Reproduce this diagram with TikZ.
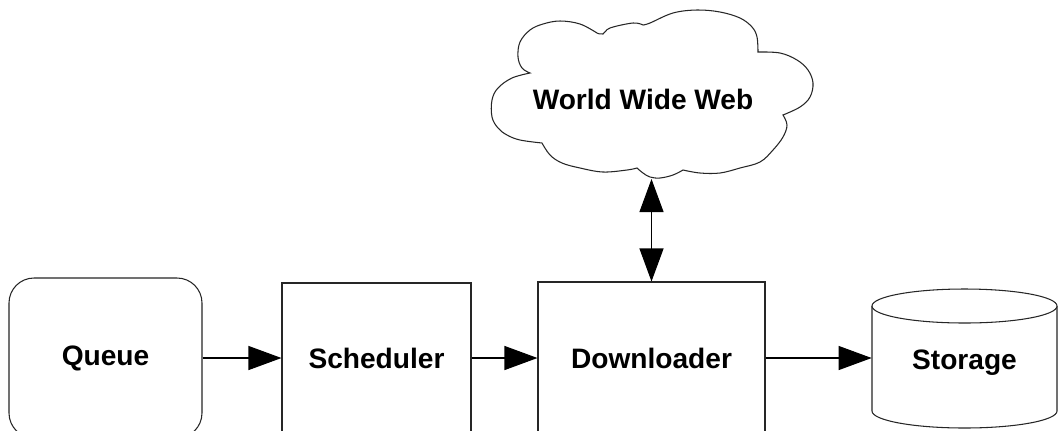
\documentclass[tikz,border=0pt]{standalone}
\usepackage{fontspec}
\setmainfont{Liberation Sans}
\usepackage{tikz}
\usetikzlibrary{positioning, arrows.meta, shapes.geometric}

\newcommand{\boxfont}{\fontsize{16}{19}\selectfont\bfseries}

\tikzset{
  stage/.style={draw=black!85, line width=0.6pt, fill=white, font=\boxfont,
    inner sep=0pt},
  drum/.style={draw=black!85, line width=0.6pt, fill=white},
  flow/.style={line width=0.6pt, -{Triangle[length=6.6mm, width=4.8mm]}},
  twoway/.style={line width=0.6pt,
    {Triangle[length=6.6mm, width=4.8mm]}-{Triangle[length=6.6mm, width=4.8mm]}}
}

\begin{document}
\begin{tikzpicture}[x=0.2mm, y=-0.2mm]
        % page frame, the boxes run past the lower edge
        \clip (0,0) rectangle (1058,430);
        \fill[white] (0,0) rectangle (1058,430);

        % pipeline
        \node[stage, rounded corners=5mm, minimum width=38.6mm, minimum height=32mm]
          (queue) at (105.5,358) {Queue};
        \node[stage, minimum width=37.8mm, minimum height=30mm]
          (sched) at (376.5,358) {Scheduler};
        \node[stage, minimum width=45.4mm, minimum height=30.4mm]
          (down) at (651.5,358) {Downloader};

        % storage drum, drawn round its label node
        \draw[drum] (872,306) -- (872,411)
          arc[start angle=180, end angle=360, x radius=18.5mm, y radius=3.4mm]
          -- (1057,306);
        \draw[drum] (964.5,306) ellipse [x radius=18.5mm, y radius=3.4mm];
        \node[font=\boxfont, inner sep=0pt, minimum width=37mm, minimum height=27.8mm]
          (store) at (964.5,363) {Storage};

        % the web
        \draw[draw=black!85, line width=0.6pt, fill=white]
          plot[smooth, tension=0.6] coordinates {(530,73) (522,68) (518,57) (520,42)
            (530,30) (543,24) (560,21) (580,24) (597,33)}
          -- plot[smooth, tension=0.6] coordinates {(597,33) (603,34) (610,28) (633,23) (643,25)}
          -- plot[smooth, tension=0.6] coordinates {(643,25) (650,23) (673,13) (697,10)
            (720,12) (740,18) (752,27) (757,37) (758,52)}
          -- plot[smooth, tension=0.6] coordinates {(758,52) (780,53) (797,60) (808,70)
            (813,83) (810,97) (800,107) (783,115)}
          -- plot[smooth, tension=0.6] coordinates {(783,115) (787,125) (783,137) (773,150)
            (760,162) (740,168) (720,173) (700,173) (683,170)}
          -- plot[smooth, tension=0.6] coordinates {(683,170) (673,175) (660,178) (650,177)
            (643,173) (637,168)}
          -- plot[smooth, tension=0.6] coordinates {(637,168) (627,170) (603,172) (580,168)
            (562,163) (550,155) (542,143)}
          -- plot[smooth, tension=0.6] coordinates {(542,143) (520,140) (507,135) (498,128)
            (492,117) (492,100) (498,88) (512,78) (530,73)} -- cycle;
        \node[font=\boxfont] (web) at (643,99) {World Wide Web};
        \coordinate (webfoot) at (651.5,179);

        % links
        \draw[flow] (queue) -- (sched);
        \draw[flow] (sched) -- (down);
        \draw[flow] (down) -- (store.west |- down.east);
        \draw[twoway] (webfoot) -- (down.north);
      \end{tikzpicture}
\end{document}
